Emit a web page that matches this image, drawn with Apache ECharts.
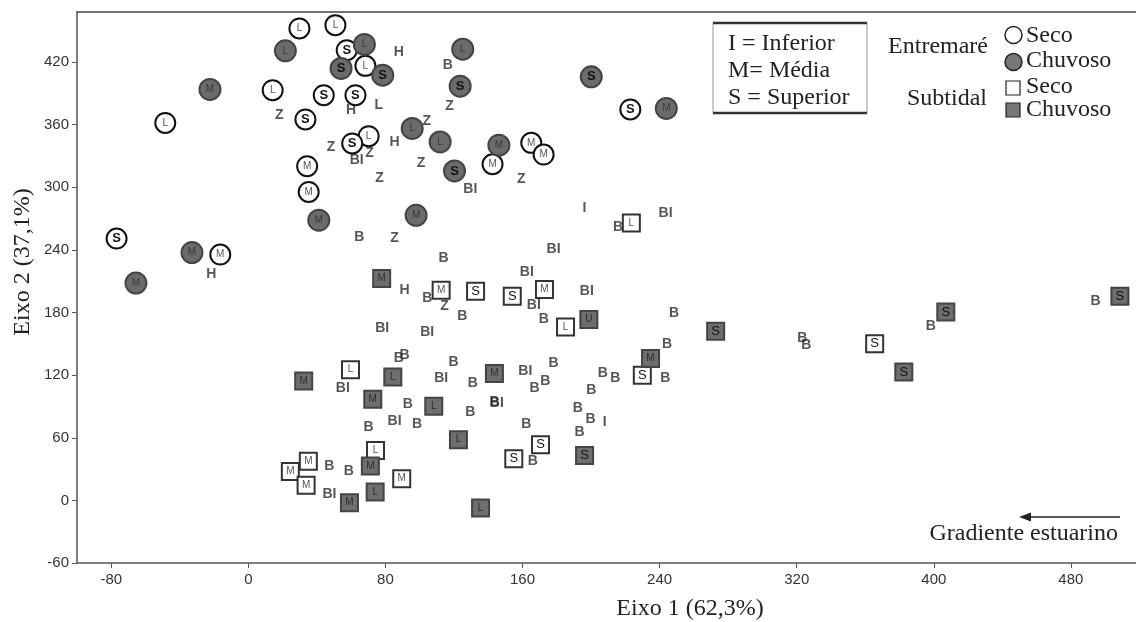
<!DOCTYPE html>
<html>
<head>
<meta charset="utf-8">
<title>Eixo 1 x Eixo 2</title>
<script src="https://cdn.jsdelivr.net/npm/echarts@6.0.0/dist/echarts.min.js"></script>
<style>
  html, body { margin: 0; padding: 0; background: #fff; }
  #chart { width: 1136px; height: 622px; }
</style>
</head>
<body>
<div id="chart"></div>
<script>
// [eixo 1, eixo 2, nível]
const entreSeco = [
  [29.8, 452.2, 'L'], [50.8, 455.4, 'L'], [57.4, 431.4, 'S'], [68.3, 416.4, 'L'],
  [14.2, 393.1, 'L'], [44.0, 388.3, 'S'], [62.5, 388.3, 'S'], [33.3, 365.0, 'S'],
  [70.2, 349.0, 'L'], [60.6, 342.0, 'S'], [34.3, 320.2, 'M'], [35.2, 295.6, 'M'],
  [142.5, 322.1, 'M'], [165.1, 342.6, 'M'], [172.3, 331.4, 'M'], [222.9, 374.6, 'S'],
  [-48.5, 361.7, 'L'], [-76.9, 250.9, 'S'], [-16.4, 235.6, 'M']
];
const entreChuvoso = [
  [21.6, 430.8, 'L'], [67.7, 436.9, 'L'], [54.1, 413.9, 'S'], [78.4, 407.5, 'S'],
  [125.1, 432.4, 'L'], [123.6, 396.9, 'S'], [95.6, 356.4, 'L'], [111.9, 343.5, 'L'],
  [120.3, 315.7, 'S'], [146.2, 340.4, 'M'], [200.1, 405.9, 'S'], [243.9, 375.6, 'M'],
  [-22.4, 393.8, 'M'], [-32.9, 237.5, 'M'], [-65.6, 208.3, 'M'], [41.1, 268.5, 'M'],
  [97.9, 273.2, 'M']
];
const subSeco = [
  [112.5, 201.3, 'M'], [132.6, 200.4, 'S'], [154.0, 195.6, 'S'], [172.8, 202.0, 'M'],
  [185.1, 166.2, 'L'], [223.5, 265.9, 'L'], [229.9, 119.8, 'S'], [59.6, 125.3, 'L'],
  [74.2, 47.9, 'L'], [35.0, 37.4, 'M'], [24.5, 27.8, 'M'], [33.7, 14.4, 'M'],
  [89.5, 20.8, 'M'], [170.5, 53.4, 'S'], [154.9, 40.0, 'S'], [365.5, 150.2, 'S']
];
const subChuvoso = [
  [77.8, 212.6, 'M'], [32.3, 114.4, 'M'], [84.3, 118.2, 'L'], [72.6, 96.8, 'M'],
  [108.2, 90.1, 'L'], [122.6, 58.2, 'L'], [71.2, 32.9, 'M'], [59.0, -2.2, 'M'],
  [74.0, 8.0, 'L'], [135.5, -7.4, 'L'], [143.6, 121.5, 'M'], [198.7, 173.3, 'U'],
  [234.7, 135.9, 'M'], [196.2, 43.1, 'S'], [272.7, 162.0, 'S'], [382.5, 123.0, 'S'],
  [407.0, 180.5, 'S'], [508.6, 195.6, 'S']
];
// grupos (B, BI, Z, H, L, I)
const grupos = [
  [87.8, 429.8, 'H'], [116.4, 417.1, 'B'], [60.0, 373.9, 'H'], [76.1, 378.7, 'L'],
  [117.4, 377.8, 'Z'], [18.1, 369.1, 'Z'], [104.1, 363.7, 'Z'], [48.3, 338.7, 'Z'],
  [85.3, 343.5, 'H'], [63.2, 326.0, 'BI'], [70.7, 333.0, 'Z'], [100.8, 323.4, 'Z'],
  [76.5, 308.4, 'Z'], [129.5, 297.9, 'BI'], [159.2, 307.5, 'Z'], [-21.6, 216.7, 'H'],
  [196.2, 279.7, 'I'], [243.5, 274.9, 'BI'], [215.7, 262.0, 'B'], [178.1, 240.4, 'BI'],
  [162.5, 218.9, 'BI'], [166.6, 187.0, 'BI'], [197.5, 200.4, 'BI'], [172.4, 173.3, 'B'],
  [248.4, 179.6, 'B'], [244.3, 149.6, 'B'], [206.9, 122.1, 'B'], [214.1, 117.6, 'B'],
  [243.3, 117.3, 'B'], [161.6, 124.0, 'BI'], [178.1, 131.1, 'B'], [167.0, 107.1, 'B'],
  [173.3, 114.1, 'B'], [200.1, 105.5, 'B'], [145.0, 93.3, 'BI'], [192.3, 88.5, 'B'],
  [199.7, 78.3, 'B'], [207.9, 75.1, 'I'], [162.2, 73.5, 'B'], [193.3, 65.5, 'B'],
  [166.0, 37.4, 'B'], [64.8, 252.4, 'B'], [85.3, 250.9, 'Z'], [113.9, 231.7, 'B'],
  [91.1, 201.3, 'H'], [104.4, 193.4, 'B'], [114.5, 186.0, 'Z'], [124.8, 176.4, 'B'],
  [78.1, 164.6, 'BI'], [104.4, 160.8, 'BI'], [87.8, 135.9, 'B'], [91.1, 139.0, 'B'],
  [119.7, 132.0, 'B'], [112.5, 117.3, 'BI'], [131.0, 111.9, 'B'], [55.1, 107.1, 'BI'],
  [93.0, 92.0, 'B'], [129.5, 84.1, 'B'], [143.6, 94.2, 'B'], [70.2, 70.3, 'B'],
  [85.3, 76.0, 'BI'], [98.5, 73.5, 'B'], [47.3, 32.9, 'B'], [58.6, 27.8, 'B'],
  [47.3, 5.8, 'BI'], [323.3, 155.0, 'B'], [325.6, 148.6, 'B'], [398.2, 166.8, 'B'],
  [494.4, 191.1, 'B']
];
const xTicks = [-80, 0, 80, 160, 240, 320, 400, 480];
const yTicks = [-60, 0, 60, 120, 180, 240, 300, 360, 420];

const sans = 'Liberation Sans, Arial, sans-serif';
const serif = 'Liberation Serif, Times New Roman, serif';

function marcador(name, data, symbol, size, fill, stroke, letraCor) {
  return {
    name: name,
    type: 'scatter',
    data: data,
    symbol: symbol,
    symbolSize: size,
    itemStyle: { color: fill, borderColor: stroke, borderWidth: 2, opacity: 1 },
    label: {
      show: true,
      position: 'inside',
      formatter: p => (p.value[2] === 'S' ? '{s|S}' : '{t|' + p.value[2] + '}'),
      rich: {
        s: { fontFamily: sans, fontSize: 13, fontWeight: symbol === 'circle' ? 'bold' : 'normal', color: '#111' },
        t: { fontFamily: sans, fontSize: 10, color: letraCor }
      }
    },
    z: 3
  };
}

const chart = echarts.init(document.getElementById('chart'));
chart.setOption({
  animation: false,
  backgroundColor: '#fff',
  grid: { left: 77, top: 12, right: 0, bottom: 59 },
  xAxis: [
    {
      type: 'value', min: -100, max: 518,
      axisLine: { onZero: false, lineStyle: { color: '#555', width: 1.5 } },
      axisTick: { show: true, length: 5, customValues: xTicks, lineStyle: { color: '#555' } },
      axisLabel: { customValues: xTicks, fontFamily: sans, fontSize: 15, color: '#333', margin: 9 },
      splitLine: { show: false }
    },
    {
      // linha superior do quadro
      type: 'value', position: 'top', min: -100, max: 518,
      axisLine: { show: true, onZero: false, lineStyle: { color: '#444', width: 1.5 } },
      axisTick: { show: false }, axisLabel: { show: false }, splitLine: { show: false }
    }
  ],
  yAxis: {
    type: 'value', min: -60, max: 468,
    axisLine: { show: true, onZero: false, lineStyle: { color: '#555', width: 1.5 } },
    axisTick: { show: true, length: 5, customValues: yTicks, lineStyle: { color: '#555' } },
    axisLabel: { customValues: yTicks, fontFamily: sans, fontSize: 15, color: '#333', margin: 8 },
    splitLine: { show: false }
  },
  series: [
    {
      name: 'grupos',
      type: 'scatter',
      data: grupos,
      symbolSize: 0,
      itemStyle: { color: 'transparent' },
      label: {
        show: true, position: 'inside',
        formatter: p => p.value[2],
        fontFamily: sans, fontSize: 14, fontWeight: 'bold', color: '#2b2b2b'
      },
      z: 2
    },
    marcador('Entremaré Seco', entreSeco, 'circle', 20, '#fff', '#111', '#555'),
    marcador('Entremaré Chuvoso', entreChuvoso, 'circle', 21, '#6b6b6b', '#444', '#3a3a3a'),
    marcador('Subtidal Seco', subSeco, 'rect', 17, '#fff', '#333', '#555'),
    marcador('Subtidal Chuvoso', subChuvoso, 'rect', 17, '#6e6e6e', '#444', '#2e2e2e')
  ],
  graphic: [
    // títulos dos eixos
    { type: 'text', x: 690, y: 609, style: { text: 'Eixo 1 (62,3%)', font: '24px ' + serif, fill: '#222', align: 'center', verticalAlign: 'middle' } },
    { type: 'text', x: 23, y: 262, rotation: Math.PI / 2, style: { text: 'Eixo 2 (37,1%)', font: '24px ' + serif, fill: '#222', align: 'center', verticalAlign: 'middle' } },
    // caixa de níveis
    { type: 'rect', shape: { x: 713, y: 23, width: 154, height: 90 }, style: { fill: '#fff', stroke: '#999', lineWidth: 1 }, z: 10 },
    { type: 'line', shape: { x1: 713, y1: 23, x2: 867, y2: 23 }, style: { stroke: '#333', lineWidth: 2.5 }, z: 11 },
    { type: 'line', shape: { x1: 713, y1: 113, x2: 867, y2: 113 }, style: { stroke: '#333', lineWidth: 2.5 }, z: 11 },
    { type: 'text', x: 728, y: 44, style: { text: 'I = Inferior', font: '24px ' + serif, fill: '#222', verticalAlign: 'middle' }, z: 11 },
    { type: 'text', x: 728, y: 71, style: { text: 'M= Média', font: '24px ' + serif, fill: '#222', verticalAlign: 'middle' }, z: 11 },
    { type: 'text', x: 728, y: 98, style: { text: 'S = Superior', font: '24px ' + serif, fill: '#222', verticalAlign: 'middle' }, z: 11 },
    // legenda
    { type: 'text', x: 988, y: 47, style: { text: 'Entremaré', font: '24px ' + serif, fill: '#222', align: 'right', verticalAlign: 'middle' }, z: 11 },
    { type: 'text', x: 987, y: 99, style: { text: 'Subtidal', font: '24px ' + serif, fill: '#222', align: 'right', verticalAlign: 'middle' }, z: 11 },
    { type: 'circle', shape: { cx: 1013.5, cy: 35, r: 8.5 }, style: { fill: '#fff', stroke: '#222', lineWidth: 1.5 }, z: 11 },
    { type: 'circle', shape: { cx: 1013.5, cy: 62, r: 8.5 }, style: { fill: '#777', stroke: '#222', lineWidth: 1.5 }, z: 11 },
    { type: 'rect', shape: { x: 1006, y: 81, width: 14, height: 14 }, style: { fill: '#fff', stroke: '#222', lineWidth: 1.2 }, z: 11 },
    { type: 'rect', shape: { x: 1006, y: 103, width: 14, height: 14 }, style: { fill: '#777', stroke: '#222', lineWidth: 1.2 }, z: 11 },
    { type: 'text', x: 1026, y: 36, style: { text: 'Seco', font: '24px ' + serif, fill: '#222', verticalAlign: 'middle' }, z: 11 },
    { type: 'text', x: 1026, y: 61, style: { text: 'Chuvoso', font: '24px ' + serif, fill: '#222', verticalAlign: 'middle' }, z: 11 },
    { type: 'text', x: 1026, y: 87, style: { text: 'Seco', font: '24px ' + serif, fill: '#222', verticalAlign: 'middle' }, z: 11 },
    { type: 'text', x: 1026, y: 110, style: { text: 'Chuvoso', font: '24px ' + serif, fill: '#222', verticalAlign: 'middle' }, z: 11 },
    // gradiente
    { type: 'line', shape: { x1: 1120, y1: 517, x2: 1026, y2: 517 }, style: { stroke: '#222', lineWidth: 1.5 }, z: 11 },
    { type: 'polygon', shape: { points: [[1019, 517], [1031, 512.5], [1031, 521.5]] }, style: { fill: '#222' }, z: 11 },
    { type: 'text', x: 1118, y: 534, style: { text: 'Gradiente estuarino', font: '24px ' + serif, fill: '#222', align: 'right', verticalAlign: 'middle' }, z: 11 }
  ]
});
</script>
</body>
</html>
